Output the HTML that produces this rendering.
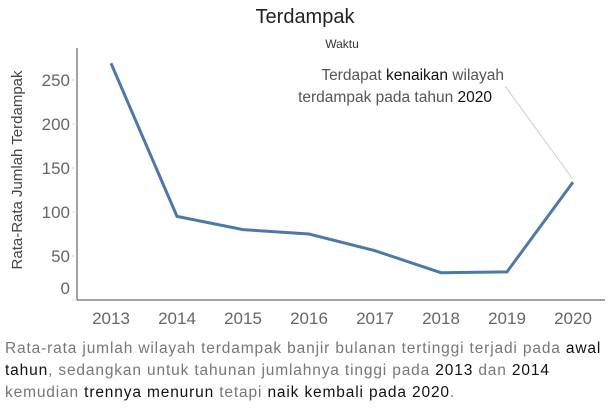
<!DOCTYPE html>
<html><head><meta charset="utf-8"><style>
body{margin:0;width:610px;height:410px;background:#fff;font-family:"Liberation Sans",sans-serif;overflow:hidden}
.cap{position:absolute;left:5px;top:338px;width:605px;font-size:15.5px;line-height:22px;color:#777;white-space:nowrap;letter-spacing:0.85px}
.cap b{font-weight:normal;color:#111}
</style></head><body>
<svg width="610" height="335" style="position:absolute;left:0;top:0">
<text x="305" y="23" text-anchor="middle" font-size="20" fill="#222">Terdampak</text>
<text x="342" y="48" text-anchor="middle" font-size="12" fill="#333">Waktu</text>
<text transform="translate(22,170) rotate(-90)" text-anchor="middle" font-size="15" fill="#444">Rata-Rata Jumlah Terdampak</text>
<g id="axes"></g>
<path id="line" fill="none" stroke="#4e79a7" stroke-width="3"/>
<line x1="505" y1="86" x2="572" y2="178" stroke="#ccc" stroke-width="1"/>
<text x="504" y="80" text-anchor="end" font-size="15.5" fill="#555">Terdapat <tspan fill="#111">kenaikan</tspan> wilayah</text>
<text x="492" y="102" text-anchor="end" font-size="15.5" fill="#555">terdampak pada tahun <tspan fill="#111">2020</tspan></text>
</svg>
<div class="cap">Rata-rata jumlah wilayah terdampak banjir bulanan tertinggi terjadi pada <b>awal</b><br><b>tahun</b>, sedangkan untuk tahunan jumlahnya tinggi pada <b>2013</b> dan <b>2014</b><br>kemudian <b>trennya menurun</b> tetapi <b>naik kembali pada 2020</b>.</div>
<script>
const years=["2013","2014","2015","2016","2017","2018","2019","2020"];
const values=[269,95,80,75,56,31,32,134];
const yTicks=[0,50,100,150,200,250];
const NS="http://www.w3.org/2000/svg";
const xs=i=>111+i*66;
const ys=v=>300-v*0.88;
const g=document.getElementById('axes');
function el(t,a,txt){const e=document.createElementNS(NS,t);for(const k in a)e.setAttribute(k,a[k]);if(txt!==undefined)e.textContent=txt;g.appendChild(e);return e;}
let e=el('line',{x1:77,y1:48,x2:77,y2:300,stroke:'#444','stroke-width':1});


e=el('line',{x1:77,y1:300,x2:605,y2:300,stroke:'#444','stroke-width':1});


yTicks.forEach(v=>{
 const y=ys(v);
 let t=el('line',{x1:72,y1:y,x2:77,y2:y,stroke:'#ddd'});
 
 
 let l=el('text',{x:70,y:(v===0?y-12:y)+6,'text-anchor':'end','font-size':17,fill:'#666'},String(v));
 
 
});
years.forEach((yr,i)=>{
 let l=el('text',{x:xs(i),y:324,'text-anchor':'middle','font-size':17,fill:'#666'},yr);
 
 
});
document.getElementById('line').setAttribute('d',values.map((v,i)=>(i?'L':'M')+xs(i)+','+ys(v)).join(''));
</script>
</body></html>
